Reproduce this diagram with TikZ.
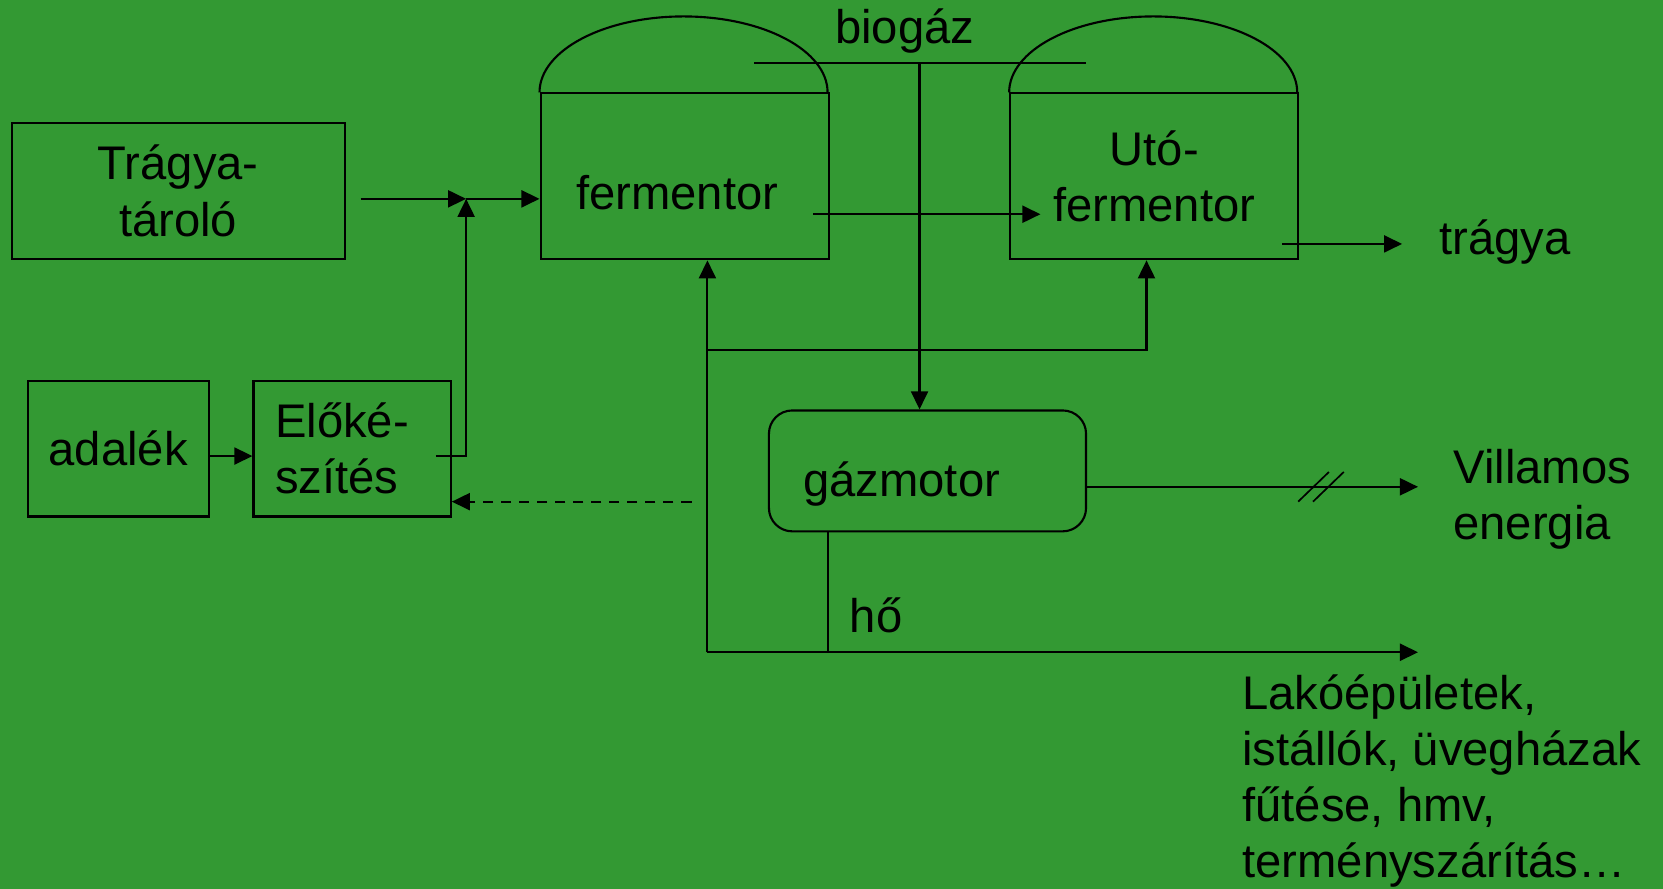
\documentclass[tikz,border=0pt]{standalone}
\usepackage{fontspec}
\setmainfont{Liberation Sans}
\usetikzlibrary{arrows.meta}
\definecolor{bggreen}{RGB}{51,153,51}
\begin{document}
\begin{tikzpicture}[x=0.5pt,y=-0.5pt,
  every node/.style={font=\fontsize{22.25}{26.5}\selectfont, inner sep=0pt, text=black},
  box/.style={draw, line width=1pt, rectangle},
  tank/.style={box, minimum width=135.8pt, minimum height=78.2pt},
  lbl/.style={align=left},
  ln/.style={line width=1pt},
  arr/.style={ln, -{Triangle[length=8.5pt,width=8pt]}},
  dsh/.style={arr, dash pattern=on 5pt off 3.5pt}]
\fill[bggreen] (0,0) rectangle (1568,838);
\useasboundingbox (0,0) rectangle (1568,838);

% boxes
\node[box, minimum width=157pt, minimum height=64pt, align=center] (trag) at (168,180) {Trágya-\\tároló};
\node[box, minimum width=85.5pt, minimum height=64pt] (adalek) at (111.5,423) {adalék};
\node[box, minimum width=93pt, minimum height=64pt] (elo) at (332,423) {};
\node[lbl, anchor=west] (elotxt) at (259,423) {Előké-\\szítés};
\node[tank] (ferm) at (645.5,166.3) {};
\node[anchor=base west] (fermtxt) at (543,198) {fermentor};
\node[tank, align=center] (uto) at (1088.3,166.3) {Utó-\\fermentor};
\node[box, rounded corners=11pt, minimum width=149.5pt, minimum height=57pt] (gm) at (874.5,444) {};
\node[anchor=base west] (gmtxt) at (757,468) {gázmotor};

% domes
\draw[ln] (ferm.north west) arc[start angle=180, end angle=0, x radius=67.9pt, y radius=35.8pt];
\draw[ln] (uto.north west) arc[start angle=180, end angle=0, x radius=67.9pt, y radius=35.8pt];

% labels
\node[anchor=base west] (biogaz) at (787,41) {biogáz};
\node[anchor=base west] (tragya) at (1357,239.5) {trágya};
\node[anchor=base west] (ho) at (801,596) {hő};
\node[lbl, anchor=west] (villamos) at (1370,471) {Villamos\\energia};
\node[lbl, anchor=west] (lako) at (1171,736.5) {Lakóépületek,\\istállók, üvegházak\\fűtése, hmv,\\terményszárítás…};

% coordinates
\coordinate (t1) at (340,187.5);
\coordinate (j1) at (439.5,187.5);
\coordinate (e1) at (411,430);
\coordinate (d1) at (652,473);
\coordinate (f1) at (767,202);
\coordinate (f2) at (981,202);
\coordinate (u1) at (1209,230);
\coordinate (u2) at (1322,230);
\coordinate (b1) at (711,59);
\coordinate (b2) at (1024,59);
\coordinate (b3) at (867,59);
\coordinate (h0) at (667,615);
\coordinate (h1) at (667,330);
\coordinate (h2) at (1081,330);
\coordinate (h3) at (781,615);
\coordinate (h4) at (1337,615);
\coordinate (v1) at (1024,459);
\coordinate (v2) at (1337,459);
\coordinate (s1) at (1224,473);
\coordinate (s2) at (1253,445);
\coordinate (s3) at (1238,473);
\coordinate (s4) at (1267,445);

% connectors
\draw[arr] (t1) -- (j1);
\draw[arr] (j1) -- (j1 -| ferm.west);
\draw[arr] (e1) -- (e1 -| j1) -- (j1);
\draw[arr] (adalek.east |- e1) -- (elo.west |- e1);
\draw[dsh] (d1) -- (elo.east |- d1);
\draw[arr] (f1) -- (f2);
\draw[arr] (u1) -- (u2);
\draw[ln] (b1) -- (b2);
\draw[arr] (b3) -- (b3 |- gm.north);
\draw[arr] (h0) -- (h0 |- ferm.south);
\draw[arr] (h1) -- (h2) -- (h2 |- uto.south);
\draw[ln] (h3 |- gm.south) -- (h3);
\draw[arr] (h0) -- (h4);
\draw[arr] (gm.east |- v1) -- (v2);
\draw[ln, line width=0.8pt] (s1) -- (s2) (s3) -- (s4);
\end{tikzpicture}
\end{document}
